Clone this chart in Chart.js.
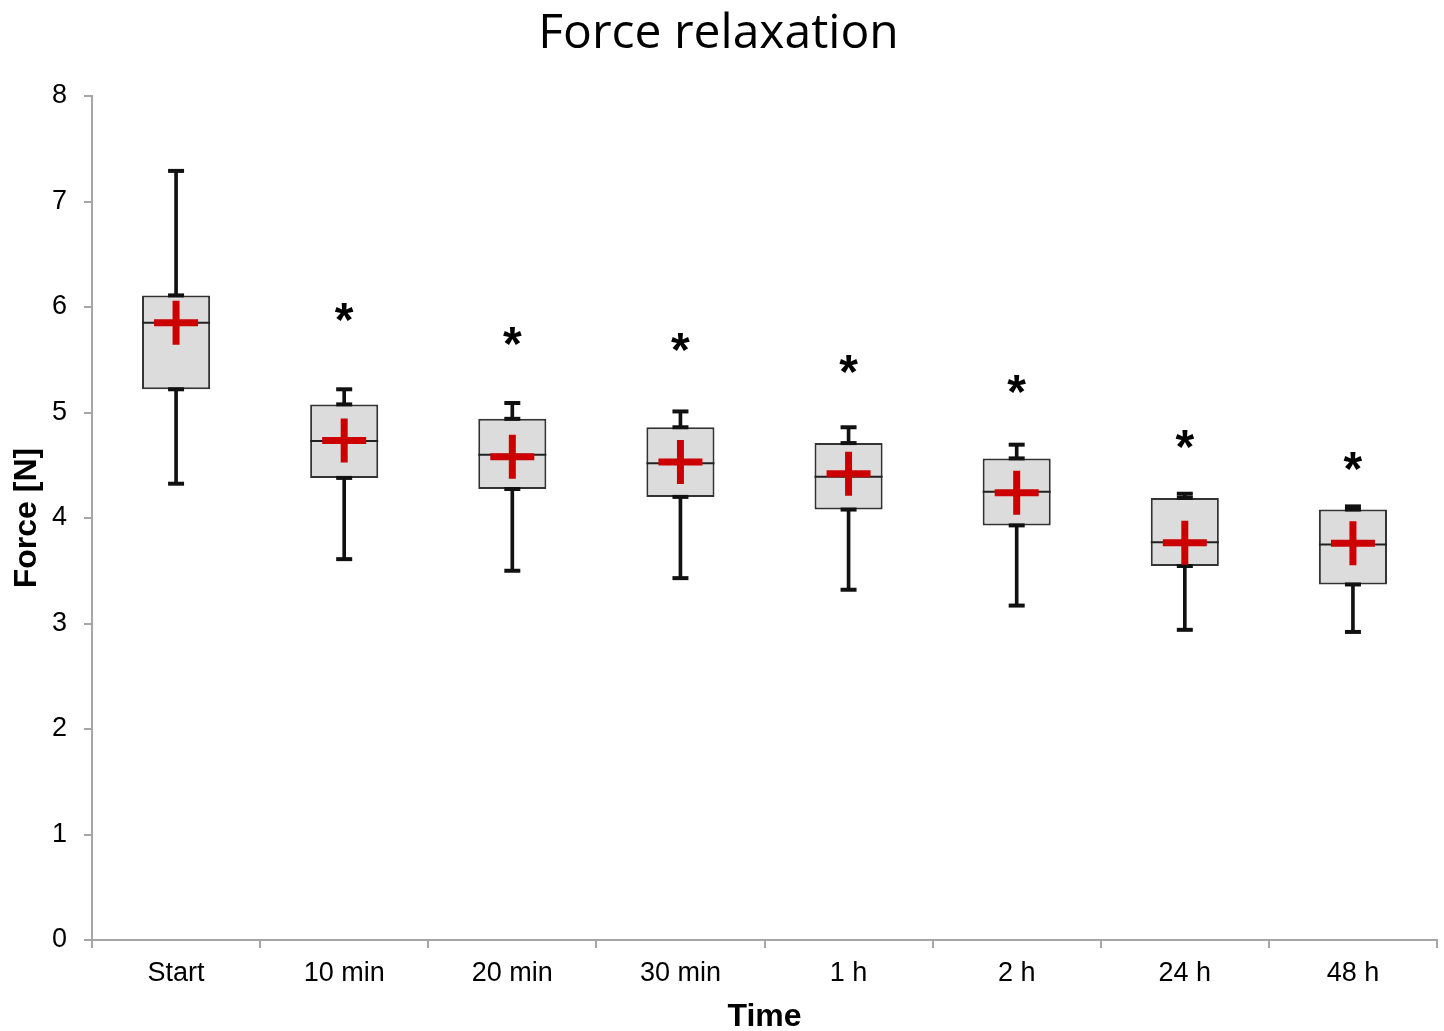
<!DOCTYPE html>
<html>
<head>
<meta charset="utf-8">
<script src="https://cdn.jsdelivr.net/npm/chart.js@4.4.1/dist/chart.umd.min.js"></script>
<style>
  html, body { margin: 0; padding: 0; background: #fff; overflow: hidden; }
  #wrap { width: 1444px; height: 1031px; }
</style>
</head>
<body>
<div id="wrap"><canvas id="chart"></canvas></div>
<script>
const labels = ['Start', '10 min', '20 min', '30 min', '1 h', '2 h', '24 h', '48 h'];
const maxVals = [7.29, 5.22, 5.09, 5.01, 4.86, 4.695, 4.23, 4.11];
const q3Vals = [6.11, 5.077, 4.94, 4.86, 4.71, 4.565, 4.19, 4.08];
const medianVals = [5.85, 4.73, 4.60, 4.52, 4.39, 4.25, 3.77, 3.75];
const meanVals = [5.85, 4.735, 4.58, 4.53, 4.42, 4.24, 3.765, 3.76];
const q1Vals = [5.22, 4.38, 4.275, 4.20, 4.08, 3.93, 3.545, 3.37];
const minVals = [4.325, 3.61, 3.50, 3.43, 3.32, 3.17, 2.94, 2.92];
const starVals = [null, 5.94, 5.72, 5.655, 5.45, 5.26, 4.74, 4.53];

const axisGray = '#a6a6a6';
const starSize = 48;

// asterisks above the boxes, placed through the chart's own scales
const starPlugin = {
  id: 'stars',
  afterDatasetsDraw(chart) {
    const { ctx, scales: { x, y } } = chart;
    ctx.save();
    ctx.font = 'bold ' + starSize + 'px "Liberation Sans", Arial, sans-serif';
    ctx.fillStyle = '#000';
    ctx.textAlign = 'center';
    ctx.textBaseline = 'alphabetic';
    starVals.forEach((v, i) => {
      if (v == null) return;
      ctx.fillText('*', x.getPixelForValue(i), y.getPixelForValue(v) + 0.48 * starSize);
    });
    ctx.restore();
  }
};

const capSet = (vals, order) => ({
  type: 'line', data: vals, showLine: false, order,
  pointStyle: 'line', pointRadius: 8, pointBorderWidth: 4,
  pointBorderColor: '#111', pointBackgroundColor: '#111'
});

const ctx = document.getElementById('chart').getContext('2d');
new Chart(ctx, {
  type: 'bar',
  data: {
    labels,
    datasets: [
      {
        type: 'line', data: meanVals, showLine: false, order: 0,
        pointStyle: 'cross', pointRadius: 22, pointBorderWidth: 7,
        pointBorderColor: '#cc0000', pointBackgroundColor: '#cc0000'
      },
      capSet(maxVals, 1),
      capSet(q3Vals, 1),
      capSet(q1Vals, 1),
      capSet(minVals, 1),
      {
        type: 'line', data: medianVals, showLine: false, order: 2,
        pointStyle: 'line', pointRadius: 34, pointBorderWidth: 2,
        pointBorderColor: '#222', pointBackgroundColor: '#222'
      },
      {
        data: q3Vals.map((q, i) => [q, maxVals[i]]), order: 3, grouped: false,
        barThickness: 3, backgroundColor: '#111', borderWidth: 0
      },
      {
        data: minVals.map((m, i) => [m, q1Vals[i]]), order: 3, grouped: false,
        barThickness: 3, backgroundColor: '#111', borderWidth: 0
      },
      {
        data: q1Vals.map((q, i) => [q, q3Vals[i]]), order: 4, grouped: false,
        barPercentage: 0.405, categoryPercentage: 1,
        backgroundColor: '#dcdcdc', borderColor: '#333', borderWidth: 2, borderSkipped: false
      }
    ]
  },
  options: {
    responsive: true,
    maintainAspectRatio: false,
    animation: false,
    events: [],
    layout: { autoPadding: false, padding: { left: 0, right: 7, top: 0, bottom: 0 } },
    plugins: {
      legend: { display: false },
      tooltip: { enabled: false },
      title: {
        display: true,
        text: 'Force relaxation',
        color: '#000',
        font: { family: '"Open Sans", sans-serif', size: 48, weight: 'normal', lineHeight: 1.2 },
        padding: { top: 6, bottom: 32.4 }
      }
    },
    scales: {
      x: {
        afterFit: s => { s.height = 91; s.paddingLeft = 0; s.paddingRight = 0; },
        grid: { offset: true, drawOnChartArea: false, drawTicks: true, tickLength: 8, color: axisGray, lineWidth: 2 },
        border: { display: true, color: axisGray, width: 2 },
        ticks: { color: '#000', padding: 9, font: { family: '"Liberation Sans", Arial, sans-serif', size: 27 } },
        title: {
          display: true, text: 'Time', color: '#000', padding: { top: 0, bottom: 0 },
          font: { family: '"Liberation Sans", Arial, sans-serif', size: 32, weight: 'bold', lineHeight: 0.85 }
        }
      },
      y: {
        min: 0, max: 8,
        afterFit: s => { s.width = 92; s.paddingTop = 0; s.paddingBottom = 0; },
        grid: { drawOnChartArea: false, drawTicks: true, tickLength: 8, color: axisGray, lineWidth: 2 },
        border: { display: true, color: axisGray, width: 2 },
        ticks: { stepSize: 1, color: '#000', padding: 17, font: { family: '"Liberation Sans", Arial, sans-serif', size: 27 } },
        title: {
          display: true, text: 'Force [N]', color: '#000', padding: { top: 11, bottom: 0 },
          font: { family: '"Liberation Sans", Arial, sans-serif', size: 32, weight: 'bold', lineHeight: 1 }
        }
      }
    }
  },
  plugins: [starPlugin]
});
</script>
</body>
</html>
